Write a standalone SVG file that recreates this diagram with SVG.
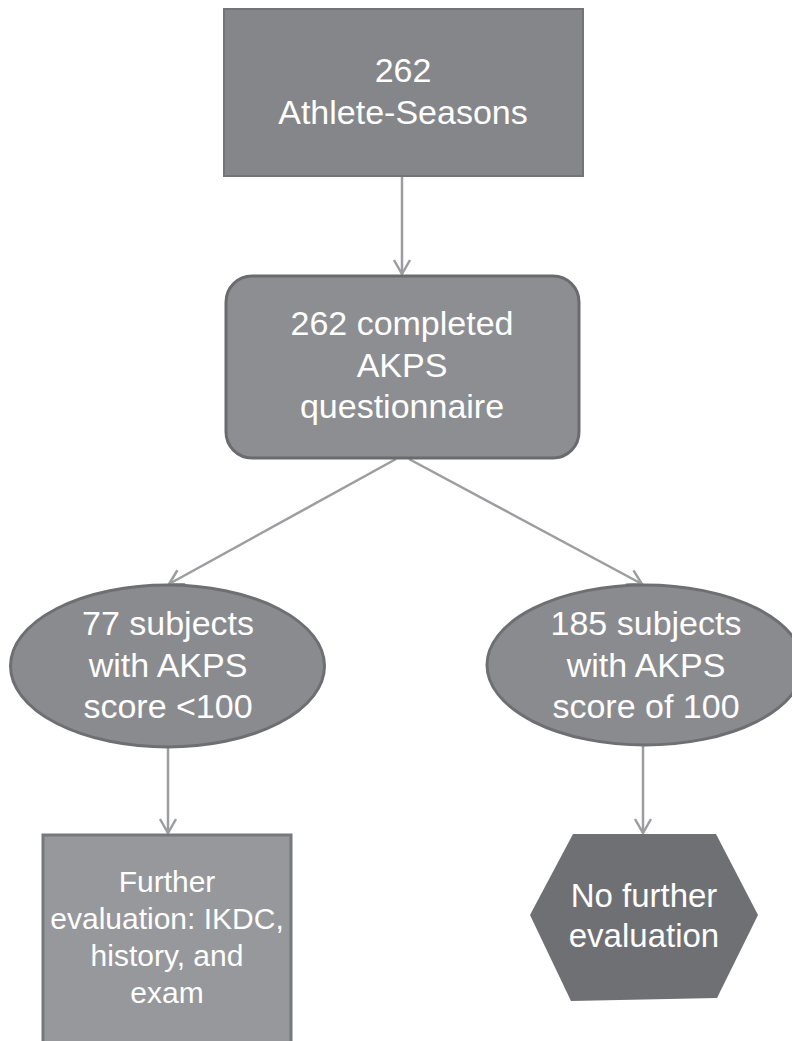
<svg xmlns="http://www.w3.org/2000/svg" width="792" height="1041" viewBox="0 0 792 1041">
<defs>
<style>
.t{font-family:"Liberation Sans",Arial,sans-serif;fill:#ffffff;text-anchor:middle;}
.c{stroke:#9c9da0;stroke-width:2.5;fill:none;}
</style>
<marker id="ah" viewBox="0 0 20 20" refX="18" refY="10" markerWidth="20" markerHeight="20" markerUnits="userSpaceOnUse" orient="auto">
<path d="M4,2 L18,10 L4,18" fill="none" stroke="#9c9da0" stroke-width="2.5"/>
</marker>
</defs>
<rect width="792" height="1041" fill="#ffffff"/>
<g id="connectors">
<line class="c" x1="402" y1="177" x2="402" y2="274" marker-end="url(#ah)"/>
<line class="c" x1="396" y1="459" x2="169" y2="584" marker-end="url(#ah)"/>
<line class="c" x1="409" y1="459" x2="642" y2="584" marker-end="url(#ah)"/>
<line class="c" x1="168" y1="748" x2="168" y2="833" marker-end="url(#ah)"/>
<line class="c" x1="643" y1="746" x2="643" y2="833" marker-end="url(#ah)"/>
</g>
<g id="n1">
<rect x="224" y="9" width="359" height="167" fill="#85868a" stroke="#737478" stroke-width="2"/>
<text class="t" x="403" y="82" font-size="34">262</text>
<text class="t" x="403" y="124" font-size="34">Athlete-Seasons</text>
</g>
<g id="n2">
<rect x="226" y="276" width="353" height="182" rx="26" fill="#8d8e92" stroke="#6a6b6f" stroke-width="3"/>
<text class="t" x="402" y="335" font-size="34">262 completed</text>
<text class="t" x="402" y="377" font-size="34">AKPS</text>
<text class="t" x="402" y="418" font-size="34">questionnaire</text>
</g>
<g id="n3">
<ellipse cx="167.5" cy="666" rx="157" ry="81" fill="#8a8b8f" stroke="#6e6f73" stroke-width="3"/>
<text class="t" x="168" y="635" font-size="34">77 subjects</text>
<text class="t" x="168" y="677" font-size="34">with AKPS</text>
<text class="t" x="168" y="718" font-size="34">score &lt;100</text>
</g>
<g id="n4">
<ellipse cx="645" cy="665" rx="158" ry="80" fill="#8a8b8f" stroke="#6e6f73" stroke-width="3"/>
<text class="t" x="646" y="635" font-size="34">185 subjects</text>
<text class="t" x="646" y="677" font-size="34">with AKPS</text>
<text class="t" x="646" y="718" font-size="34">score of 100</text>
</g>
<g id="n5">
<rect x="43" y="835" width="248" height="215" fill="#97989c" stroke="#77787c" stroke-width="3"/>
<text class="t" x="167" y="892" font-size="30">Further</text>
<text class="t" x="167" y="929" font-size="30">evaluation: IKDC,</text>
<text class="t" x="167" y="966" font-size="30">history, and</text>
<text class="t" x="167" y="1003" font-size="30">exam</text>
</g>
<g id="n6">
<polygon points="573,834 716,834 758,915 717,998 571,1001 530,915" fill="#6f7074"/>
<text class="t" x="644" y="907" font-size="33">No further</text>
<text class="t" x="644" y="947" font-size="33">evaluation</text>
</g>
</svg>
